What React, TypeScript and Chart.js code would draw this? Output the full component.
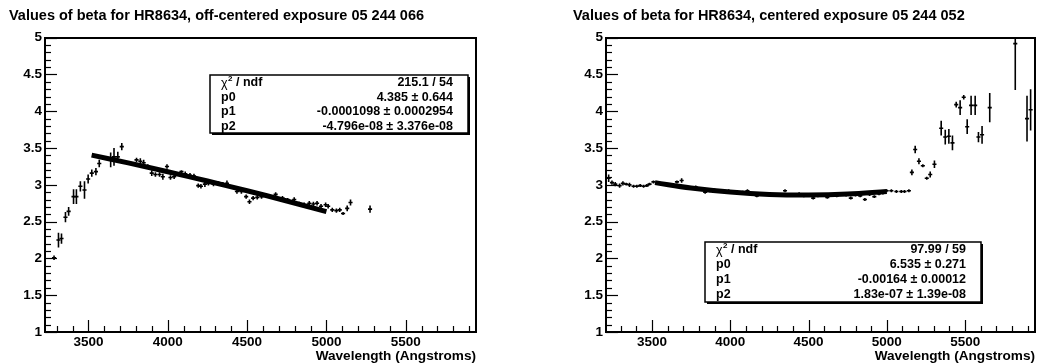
import React, { useEffect, useRef } from 'react';
import { Chart, registerables } from 'chart.js';

Chart.register(...registerables);

const FONT = "'Liberation Sans', Arial, Helvetica, sans-serif";

// ---------------- Left panel data ----------------
const leftTitle = 'Values of beta for HR8634, off-centered exposure 05 244 066';
const leftWavelength = [
  3283, 3311, 3330, 3355, 3375, 3406, 3424, 3449, 3475, 3498, 3521, 3547, 3568,
  3640, 3661, 3685, 3710, 3803, 3827, 3848, 3874, 3899, 3922, 3948, 3969, 3995,
  4017, 4040, 4086, 4110, 4140, 4165, 4192, 4209, 4234, 4256, 4288, 4320, 4347,
  4373, 4405, 4436, 4464, 4494, 4515, 4538, 4564, 4591, 4627, 4680, 4723, 4755,
  4797, 4829, 4860, 4892, 4918, 4941, 4966, 4995, 5011, 5037, 5063, 5084, 5105,
  5131, 5152, 5275,
];
const leftBeta = [
  2.01, 2.25, 2.27, 2.56, 2.64, 2.84, 2.84, 2.98, 2.93, 3.08, 3.16, 3.18, 3.29,
  3.34, 3.38, 3.38, 3.52, 3.34, 3.32, 3.30, 3.25, 3.16, 3.14, 3.14, 3.11, 3.25,
  3.10, 3.11, 3.18, 3.15, 3.13, 3.12, 2.99, 2.98, 3.01, 3.02, 3.01, 3.02, 3.01,
  3.02, 2.97, 2.91, 2.91, 2.84, 2.77, 2.82, 2.83, 2.84, 2.84, 2.87, 2.82, 2.80,
  2.80, 2.75, 2.73, 2.75, 2.74, 2.75, 2.71, 2.73, 2.71, 2.66, 2.65, 2.66, 2.61,
  2.68, 2.76, 2.67,
];
const leftError = [
  0.03, 0.10, 0.07, 0.07, 0.06, 0.10, 0.10, 0.07, 0.12, 0.06, 0.05, 0.05, 0.05,
  0.10, 0.12, 0.07, 0.05, 0.03, 0.04, 0.04, 0.03, 0.04, 0.03, 0.03, 0.04, 0.03,
  0.03, 0.03, 0.02, 0.03, 0.03, 0.03, 0.03, 0.03, 0.04, 0.03, 0.03, 0.03, 0.03,
  0.04, 0.02, 0.03, 0.03, 0.03, 0.03, 0.03, 0.03, 0.03, 0.02, 0.03, 0.03, 0.02,
  0.03, 0.02, 0.03, 0.03, 0.03, 0.03, 0.03, 0.03, 0.03, 0.03, 0.03, 0.03, 0.02,
  0.04, 0.04, 0.05,
];
const leftFitWavelength = [3520, 3750, 4000, 4250, 4500, 4750, 5000];
const leftFitBeta = [3.404, 3.299, 3.178, 3.052, 2.92, 2.781, 2.637];
const leftStatsLabels = ['χ² / ndf', 'p0', 'p1', 'p2'];
const leftStatsValues = ['215.1 / 54', '4.385 ± 0.644', '-0.0001098 ± 0.0002954', '-4.796e-08 ± 3.376e-08'];

// ---------------- Right panel data ----------------
const rightTitle = 'Values of beta for HR8634, centered exposure 05 244 052';
const rightWavelength = [
  3224, 3245, 3266, 3294, 3315, 3336, 3357, 3383, 3404, 3425, 3447, 3468, 3485,
  3510, 3540, 3570, 3600, 3630, 3660, 3690, 3720, 3750, 3780, 3810, 3840, 3870,
  3900, 3930, 3960, 3990, 4020, 4050, 4080, 4110, 4140, 4170, 4200, 4230, 4260,
  4290, 4320, 4350, 4380, 4410, 4440, 4470, 4500, 4530, 4560, 4590, 4620, 4650,
  4680, 4710, 4740, 4770, 4800, 4830, 4860, 4890, 4920, 4950, 4975,
  4999, 5029, 5061, 5092, 5113, 5141,
  5160, 5181, 5205, 5230, 5255, 5277, 5304, 5347, 5373, 5396, 5419, 5443, 5468,
  5491, 5513, 5538, 5564, 5585, 5608, 5657, 5820, 5895, 5918,
];
const rightBeta = [
  3.09, 3.03, 3.01, 2.99, 3.02, 3.01, 3.00, 2.98, 2.98, 2.99, 2.98, 2.99, 3.01,
  3.04, 3.03, 3.01, 3.00, 3.00, 3.04, 3.06, 2.97, 2.96, 2.97, 2.94, 2.90, 2.92,
  2.93, 2.91, 2.91, 2.92, 2.90, 2.89, 2.90, 2.92, 2.87, 2.85, 2.87, 2.87, 2.86,
  2.87, 2.87, 2.92, 2.86, 2.86, 2.88, 2.85, 2.86, 2.82, 2.85, 2.86, 2.83, 2.86,
  2.85, 2.87, 2.86, 2.82, 2.86, 2.85, 2.80, 2.87, 2.84, 2.88, 2.89,
  2.92, 2.92, 2.91, 2.91, 2.91, 2.92,
  3.17, 3.48, 3.32, 3.26, 3.09, 3.14, 3.28, 3.77, 3.65, 3.66, 3.57, 4.09, 4.05,
  4.19, 3.79, 4.08, 4.08, 3.65, 3.68, 4.05, 4.92, 3.90, 4.02,
];
const rightError = [
  0.05, 0.03, 0.03, 0.03, 0.03, 0.02, 0.03, 0.02, 0.02, 0.02, 0.02, 0.02, 0.02,
  0.02, 0.02, 0.02, 0.02, 0.02, 0.02, 0.03, 0.02, 0.02, 0.02, 0.02, 0.02, 0.02,
  0.02, 0.02, 0.02, 0.02, 0.02, 0.02, 0.02, 0.02, 0.02, 0.02, 0.02, 0.02, 0.02,
  0.02, 0.02, 0.02, 0.02, 0.02, 0.02, 0.02, 0.02, 0.02, 0.02, 0.02, 0.02, 0.02,
  0.02, 0.02, 0.02, 0.02, 0.02, 0.02, 0.02, 0.02, 0.02, 0.02, 0.02,
  0.02, 0.02, 0.02, 0.02, 0.02, 0.02,
  0.04, 0.05, 0.04, 0.02, 0.02, 0.04, 0.05, 0.10, 0.10, 0.10, 0.10, 0.04, 0.10,
  0.03, 0.10, 0.13, 0.13, 0.07, 0.12, 0.20, 0.63, 0.31, 0.28,
];
const rightFitWavelength = [3520, 3750, 4000, 4250, 4500, 4750, 5000];
const rightFitBeta = [3.03, 2.958, 2.903, 2.87, 2.861, 2.874, 2.91];
const rightStatsLabels = ['χ² / ndf', 'p0', 'p1', 'p2'];
const rightStatsValues = ['97.99 / 59', '6.535 ± 0.271', '-0.00164 ± 0.00012', '1.83e-07 ± 1.39e-08'];

// Axis tick settings
const yMajorStep = 0.5;
const xMajorStep = 500;

function isMajor(v: number, step: number) {
  const r = v / step;
  return Math.abs(r - Math.round(r)) < 1e-6;
}

const errorBarPlugin = {
  id: 'errorBars',
  beforeDatasetsDraw(chart: any, _args: any, opts: any) {
    const { ctx, chartArea: a, scales } = chart;
    const xs = scales.x;
    const ys = scales.y;
    const ds = chart.data.datasets[0];
    const half = opts.xHalf || 12;
    ctx.save();
    ctx.beginPath();
    ctx.rect(a.left, a.top, a.right - a.left, a.bottom - a.top);
    ctx.clip();
    ctx.strokeStyle = '#000';
    ctx.lineWidth = 1.6;
    for (const p of ds.data) {
      const px = xs.getPixelForValue(p.x);
      const py = ys.getPixelForValue(p.y);
      const y1 = ys.getPixelForValue(p.y - p.e);
      const y2 = ys.getPixelForValue(p.y + p.e);
      const x1 = xs.getPixelForValue(p.x - half);
      const x2 = xs.getPixelForValue(p.x + half);
      ctx.beginPath();
      ctx.moveTo(px, y1);
      ctx.lineTo(px, y2);
      ctx.moveTo(x1, py);
      ctx.lineTo(x2, py);
      ctx.stroke();
    }
    ctx.restore();
  },
};

const framePlugin = {
  id: 'rootFrame',
  afterDraw(chart: any) {
    const { ctx, chartArea: a, scales } = chart;
    const xs = scales.x;
    const ys = scales.y;
    ctx.save();
    ctx.strokeStyle = '#000';
    ctx.lineWidth = 1.2;
    for (const t of ys.ticks) {
      const py = Math.round(ys.getPixelForValue(t.value)) + 0.5;
      const len = isMajor(t.value, yMajorStep) ? 12 : 6;
      ctx.beginPath();
      ctx.moveTo(a.left, py);
      ctx.lineTo(a.left + len, py);
      ctx.stroke();
    }
    for (const t of xs.ticks) {
      const px = Math.round(xs.getPixelForValue(t.value)) + 0.5;
      const len = isMajor(t.value, xMajorStep) ? 12 : 6;
      ctx.beginPath();
      ctx.moveTo(px, a.bottom);
      ctx.lineTo(px, a.bottom - len);
      ctx.stroke();
    }
    ctx.lineWidth = 2;
    ctx.strokeRect(Math.round(a.left), Math.round(a.top), Math.round(a.right - a.left), Math.round(a.bottom - a.top));
    ctx.restore();
  },
};

const statsPlugin = {
  id: 'statsBox',
  afterDraw(chart: any, _args: any, opts: any) {
    const { ctx } = chart;
    const { left, top, right, bottom, labels, values } = opts;
    ctx.save();
    ctx.fillStyle = '#000';
    ctx.fillRect(left + 2, top + 2, right - left, bottom - top);
    ctx.fillStyle = '#fff';
    ctx.fillRect(left, top, right - left, bottom - top);
    ctx.strokeStyle = '#000';
    ctx.lineWidth = 1.5;
    ctx.strokeRect(left, top, right - left, bottom - top);
    const rowH = (bottom - top) / labels.length;
    const font = `bold 12.5px ${FONT}`;
    ctx.fillStyle = '#000';
    ctx.textBaseline = 'middle';
    labels.forEach((lab: string, i: number) => {
      const cy = top + rowH * (i + 0.5) + 0.5;
      ctx.font = font;
      ctx.textAlign = 'left';
      let x = left + 11;
      if (lab.startsWith('χ²')) {
        ctx.font = `12.5px ${FONT}`;
        ctx.fillText('χ', x, cy + 1);
        x += ctx.measureText('χ').width;
        ctx.font = `bold 8px ${FONT}`;
        ctx.fillText('2', x + 0.5, cy - 4);
        x += ctx.measureText('2').width + 0.5;
        ctx.font = font;
        ctx.fillText(lab.slice(2), x, cy);
      } else {
        ctx.fillText(lab, x, cy);
      }
      ctx.textAlign = 'right';
      ctx.fillText(values[i], right - 15, cy);
    });
    ctx.restore();
  },
};

type PanelCfg = {
  title: string;
  xs: number[];
  ys: number[];
  es: number[];
  fitX: number[];
  fitY: number[];
  xMin: number;
  xMax: number;
  padLeft: number;
  yWidth: number;
  padRight: number;
  labels: string[];
  values: string[];
  box: { left: number; top: number; right: number; bottom: number };
};

function buildConfig(c: PanelCfg): any {
  const points = c.xs.map((x, i) => ({ x, y: c.ys[i], e: c.es[i] }));
  const fit = c.fitX.map((x, i) => ({ x, y: c.fitY[i] }));
  return {
    type: 'scatter',
    data: {
      datasets: [
        { type: 'scatter', data: points, pointRadius: 0, pointHoverRadius: 0, showLine: false },
        {
          type: 'line',
          data: fit,
          borderColor: '#000',
          borderWidth: 5,
          borderCapStyle: 'butt',
          pointRadius: 0,
          tension: 0.4,
          fill: false,
        },
      ],
    },
    options: {
      animation: false,
      responsive: false,
      events: [],
      layout: { padding: { left: c.padLeft, right: c.padRight, top: 0, bottom: 0 } },
      plugins: {
        legend: { display: false },
        tooltip: { enabled: false },
        title: {
          display: true,
          text: c.title,
          align: 'start',
          color: '#000',
          font: { family: FONT, size: 14.5, weight: 'bold', lineHeight: 1.2 },
          padding: { top: 7, bottom: 13.3 },
        },
        errorBars: { xHalf: 13 },
        statsBox: { ...c.box, labels: c.labels, values: c.values },
      },
      scales: {
        x: {
          type: 'linear',
          min: c.xMin,
          max: c.xMax,
          grid: { display: false, drawTicks: false },
          border: { display: false },
          ticks: {
            stepSize: 100,
            autoSkip: false,
            includeBounds: false,
            maxRotation: 0,
            padding: 2,
            color: '#000',
            font: { family: FONT, size: 13.5, weight: 'bold' },
            callback: (v: number) => (isMajor(v, xMajorStep) ? String(Math.round(v)) : ''),
          },
          title: {
            display: true,
            text: 'Wavelength (Angstroms)',
            align: 'end',
            color: '#000',
            font: { family: FONT, size: 13.6, weight: 'bold', lineHeight: 1.2 },
            padding: { top: 0, bottom: 0 },
          },
          afterFit: (s: any) => {
            s.height = 32;
          },
        },
        y: {
          type: 'linear',
          min: 1,
          max: 5,
          grid: { display: false, drawTicks: false },
          border: { display: false },
          ticks: {
            stepSize: 0.1,
            autoSkip: false,
            includeBounds: false,
            padding: 3,
            color: '#000',
            font: { family: FONT, size: 13.5, weight: 'bold' },
            callback: (v: number) => (isMajor(v, yMajorStep) ? String(Number(v.toFixed(1))) : ''),
          },
          afterFit: (s: any) => {
            s.width = c.yWidth;
          },
        },
      },
    },
    plugins: [errorBarPlugin, framePlugin, statsPlugin],
  };
}

const leftCfg: PanelCfg = {
  title: leftTitle,
  xs: leftWavelength,
  ys: leftBeta,
  es: leftError,
  fitX: leftFitWavelength,
  fitY: leftFitBeta,
  xMin: 3226,
  xMax: 5943,
  padLeft: 9,
  yWidth: 36,
  padRight: 42,
  labels: leftStatsLabels,
  values: leftStatsValues,
  box: { left: 210, top: 75, right: 468, bottom: 133 },
};

const rightCfg: PanelCfg = {
  title: rightTitle,
  xs: rightWavelength,
  ys: rightBeta,
  es: rightError,
  fitX: rightFitWavelength,
  fitY: rightFitBeta,
  xMin: 3207,
  xMax: 5946,
  padLeft: 55,
  yWidth: 33,
  padRight: 2,
  labels: rightStatsLabels,
  values: rightStatsValues,
  box: { left: 187, top: 242, right: 463, bottom: 302 },
};

function Panel({ cfg, left, width }: { cfg: PanelCfg; left: number; width: number }) {
  const ref = useRef<HTMLCanvasElement>(null);
  useEffect(() => {
    const chart = new Chart(ref.current as HTMLCanvasElement, buildConfig(cfg));
    return () => chart.destroy();
  }, [cfg]);
  return (
    <canvas
      ref={ref}
      width={width}
      height={364}
      style={{ position: 'absolute', left, top: 0, width, height: 364 }}
    />
  );
}

export default function App() {
  return (
    <div style={{ position: 'absolute', left: 0, top: 0, width: 1037, height: 364, background: '#fff' }}>
      <Panel cfg={leftCfg} left={0} width={518} />
      <Panel cfg={rightCfg} left={518} width={519} />
    </div>
  );
}
